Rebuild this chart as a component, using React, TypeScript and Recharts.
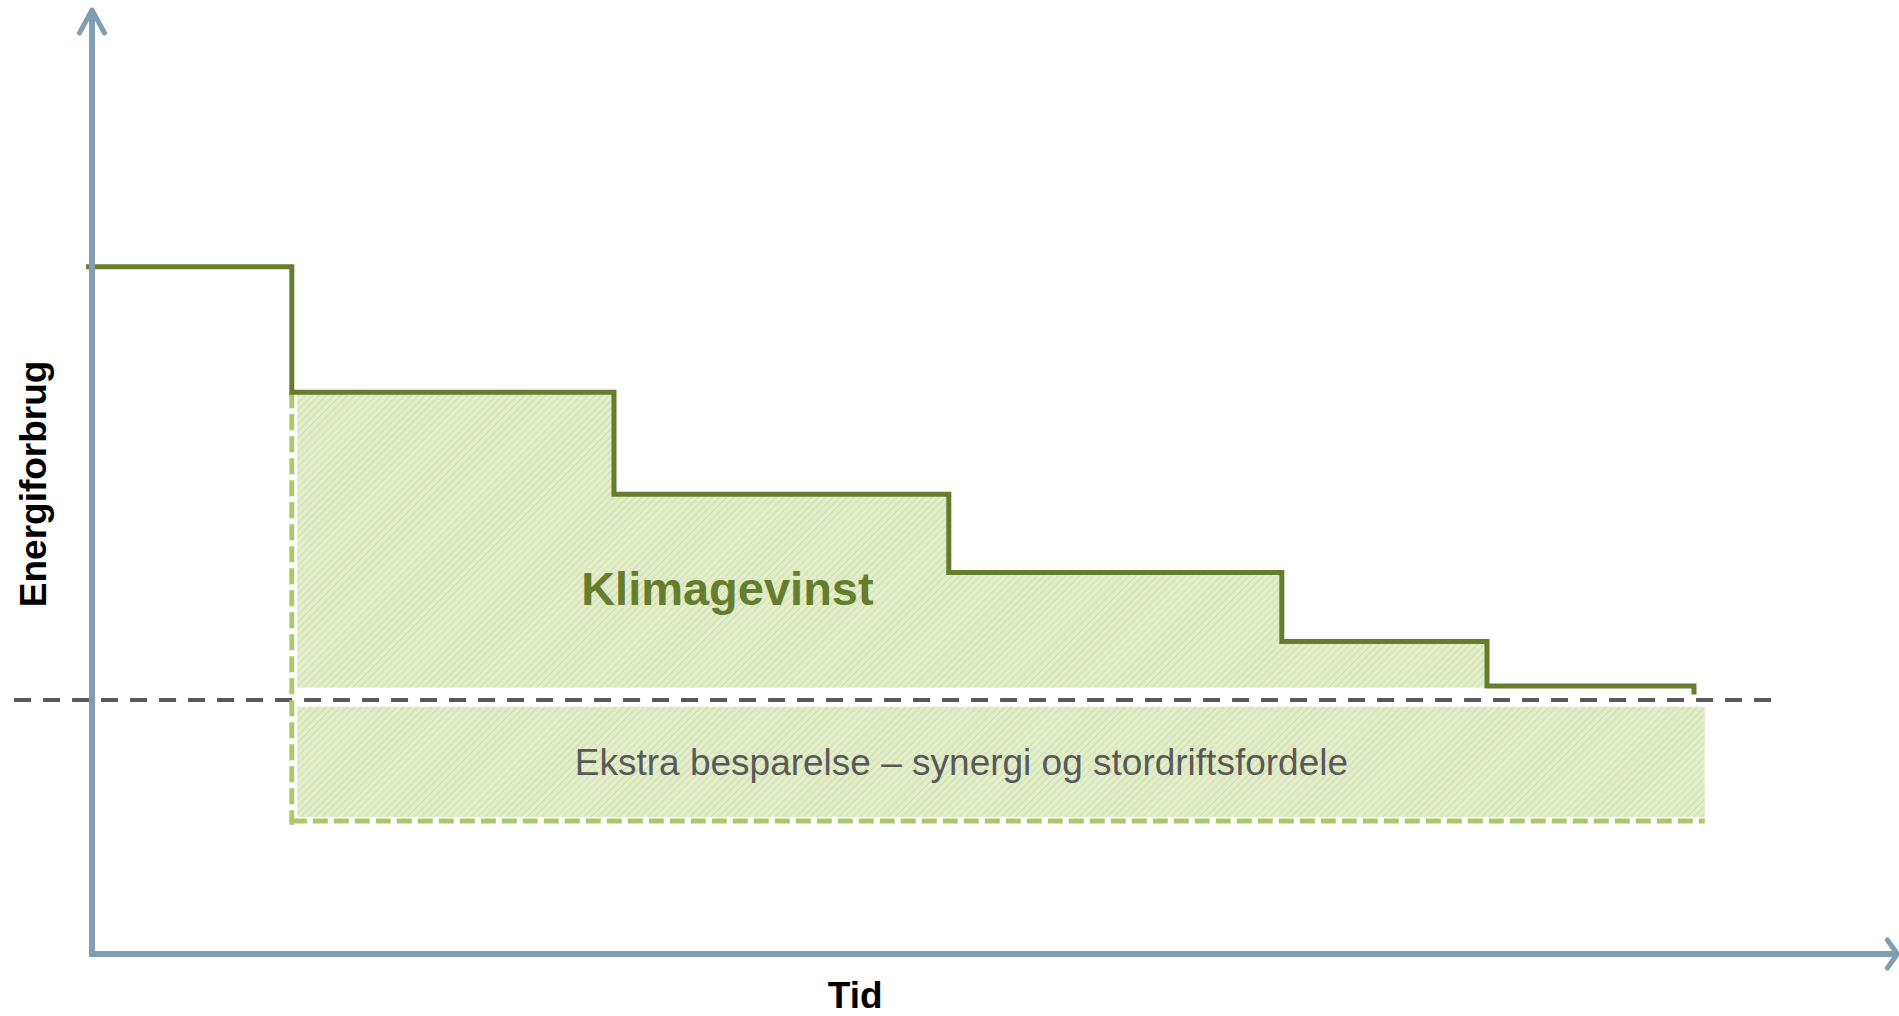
import React from 'react';
import { ComposedChart, Line, Area, XAxis, YAxis, ReferenceLine, ReferenceArea, ReferenceDot } from 'recharts';

// time units along x, energy units along y
const stepTimes = [-0.33, 11.1, 29.0, 47.6, 66.1, 77.5, 89.0];
const stepEnergy = [72.8, 59.5, 48.7, 40.4, 33.1, 28.4, 27.5];

const gainTimes = [11.4, 29.0, 47.6, 66.1, 77.5];
const gainTop = [59.5, 48.7, 40.4, 33.1, 33.1];
const gainFloor = 28.2;

const extraBox = { t1: 11.4, t2: 89.6, e1: 14.5, e2: 26.2 };
const borderLeft = { t: 11.1, e1: 59.5, e2: 13.7 };
const borderBottom = { t1: 11.1, t2: 89.6, e: 14.1 };
const baselineLevel = { e: 26.9, t1: -4.33, t2: 93.7 };

const stepData = stepTimes.map((t, i) => ({ t, e: stepEnergy[i] }));
const gainData = gainTimes.map((t, i) => ({ t, range: [gainFloor, gainTop[i]] }));

const FONT = '"Liberation Sans", Arial, sans-serif';
const AXIS = '#7f9db3';
const OLIVE = '#657d2c';
const LIGHT = '#adc86b';

const textLabel = (txt: string, style: any, rotate = false) => (props: any) => {
  const vb = props.viewBox;
  const x = vb.x + (vb.width || 0) / 2;
  const y = vb.y + (vb.height || 0) / 2;
  return (
    <text
      x={x}
      y={y}
      textAnchor="middle"
      transform={rotate ? `rotate(-90 ${x} ${y})` : undefined}
      style={{ fontFamily: FONT, ...style }}
    >
      {txt}
    </text>
  );
};

const yAxisShape = (p: any) => (
  <g>
    <line x1={p.x1} y1={p.y1 + 2} x2={p.x2} y2={p.y2} stroke={AXIS} strokeWidth={6} />
    <path d={`M${p.x2 - 12.5},${p.y2 + 23} L${p.x2},${p.y2} L${p.x2 + 12.5},${p.y2 + 23}`} fill="none" stroke={AXIS} strokeWidth={5} strokeLinecap="round" strokeLinejoin="round" />
  </g>
);

const xAxisShape = (p: any) => (
  <g>
    <line x1={p.x1 - 3} y1={p.y1} x2={p.x2} y2={p.y2} stroke={AXIS} strokeWidth={6} />
    <path d={`M${p.x2 - 10},${p.y2 - 14} L${p.x2},${p.y2} L${p.x2 - 10},${p.y2 + 14}`} fill="none" stroke={AXIS} strokeWidth={5} strokeLinecap="round" strokeLinejoin="round" />
  </g>
);

export default function App() {
  return (
    <div style={{ position: 'absolute', left: 0, top: 0, width: 1899, height: 1016, background: '#fff' }}>
      <ComposedChart width={1899} height={1016} margin={{ top: 10, right: 7, bottom: 62, left: 2 }}>
        <defs>
          <pattern id="hatch" patternUnits="userSpaceOnUse" width="5" height="5" patternTransform="rotate(45)">
            <rect width="5" height="5" fill="#e3edcb" />
            <line x1="0" y1="0" x2="0" y2="5" stroke="#cde0a6" strokeWidth="2" />
          </pattern>
        </defs>
        <XAxis type="number" dataKey="t" domain={[-5, 100]} hide allowDataOverflow />
        <YAxis type="number" domain={[0, 100]} hide allowDataOverflow />

        <ReferenceArea
          x1={extraBox.t1} x2={extraBox.t2} y1={extraBox.e1} y2={extraBox.e2}
          fill="url(#hatch)" fillOpacity={1} stroke="none" ifOverflow="visible"
        />
        <Area
          data={gainData} dataKey="range" type="stepAfter"
          fill="url(#hatch)" fillOpacity={1} stroke="none" isAnimationActive={false}
        />

        <ReferenceLine
          segment={[{ x: baselineLevel.t1, y: baselineLevel.e }, { x: baselineLevel.t2, y: baselineLevel.e }]}
          stroke="#5a5a5a" strokeWidth={4} strokeDasharray="17 12" ifOverflow="visible"
        />
        <ReferenceLine
          segment={[{ x: borderLeft.t, y: borderLeft.e1 }, { x: borderLeft.t, y: borderLeft.e2 }]}
          stroke={LIGHT} strokeWidth={5} strokeDasharray="16 6" ifOverflow="visible"
        />
        <ReferenceLine
          segment={[{ x: borderBottom.t1, y: borderBottom.e }, { x: borderBottom.t2, y: borderBottom.e }]}
          stroke={LIGHT} strokeWidth={5} strokeDasharray="15 6" ifOverflow="visible"
        />

        <Line
          data={stepData} dataKey="e" type="stepAfter" stroke={OLIVE} strokeWidth={5}
          dot={false} activeDot={false} isAnimationActive={false}
        />

        <ReferenceLine segment={[{ x: 0, y: 0 }, { x: 0, y: 100 }]} shape={yAxisShape} ifOverflow="visible" />
        <ReferenceLine segment={[{ x: 0, y: 0 }, { x: 100.3, y: 0 }]} shape={xAxisShape} ifOverflow="visible" />

        <ReferenceDot x={35.3} y={37.0} r={0} fill="none" stroke="none" ifOverflow="visible"
          label={{ content: textLabel('Klimagevinst', { fontSize: 47, fontWeight: 700, fill: OLIVE }) }} />
        <ReferenceDot x={48.3} y={19.0} r={0} fill="none" stroke="none" ifOverflow="visible"
          label={{ content: textLabel('Ekstra besparelse – synergi og stordriftsfordele', { fontSize: 37, fill: '#595959' }) }} />
        <ReferenceDot x={42.4} y={-5.75} r={0} fill="none" stroke="none" ifOverflow="visible"
          label={{ content: textLabel('Tid', { fontSize: 37, fontWeight: 700, fill: '#000' }) }} />
        <ReferenceDot x={-2.55} y={49.8} r={0} fill="none" stroke="none" ifOverflow="visible"
          label={{ content: textLabel('Energiforbrug', { fontSize: 37, fontWeight: 700, fill: '#000' }, true) }} />
      </ComposedChart>
    </div>
  );
}
